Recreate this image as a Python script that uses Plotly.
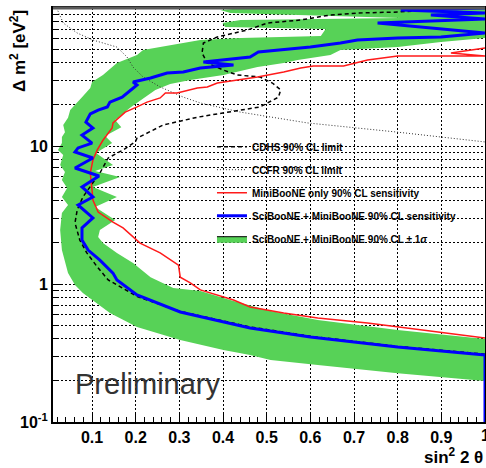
import plotly.graph_objects as go

# ---------------- data (x = sin^2 2theta, y = Delta m^2 [eV^2]) ----------------
band_x = [1.0, 0.800, 0.617, 0.509, 0.462, 0.401, 0.302, 0.203, 0.141, 0.079, 0.061, 0.045,
          0.031, 0.027, 0.031, 0.045, 0.031, 0.043, 0.031, 0.038, 0.027, 0.034, 0.022, 0.031,
          0.031, 0.038, 0.034, 0.045, 0.050, 0.066, 0.077, 0.096, 0.100, 0.125, 0.157, 0.203,
          0.217, 0.256, 0.309, 0.348, 0.440, 0.624, 0.635, 0.405, 0.399, 0.440, 0.807, 0.417,
          0.394, 0.485, 1.0,
          1.0, 0.899, 0.800, 0.669, 0.646, 0.571, 0.539, 0.479, 0.401, 0.325, 0.279, 0.245,
          0.222, 0.203, 0.187, 0.171, 0.153, 0.167, 0.130, 0.146, 0.109, 0.148, 0.107, 0.164,
          0.102, 0.157, 0.107, 0.153, 0.118, 0.114, 0.125, 0.157, 0.194, 0.234, 0.286, 0.348,
          0.424, 0.509, 0.617, 0.800, 1.0]
band_y = [0.198, 0.226, 0.259, 0.281, 0.306, 0.332, 0.393, 0.488, 0.617, 0.861, 0.984, 1.20,
          1.76, 2.46, 3.27, 3.74, 4.27, 4.97, 5.68, 6.48, 7.28, 8.61, 9.36, 10.5,
          11.6, 12.6, 14.2, 16.0, 18.2, 20.5, 22.6, 26.3, 29.1, 32.7, 39.9, 45.6,
          49.6, 52.1, 55.7, 58.6, 60.7, 62.7, 70.5, 72.8, 77.8, 81.9, 84.8, 92.0,
          96.8, 102, 102,
          60.7, 56.8, 52.1, 49.6, 45.6, 42.0, 39.9, 37.3, 32.7, 30.1, 28.1, 25.5,
          22.6, 20.5, 18.9, 17.1, 15.4, 13.7, 11.8, 10.5, 8.90, 7.28, 6.59, 5.96,
          5.05, 4.27, 3.61, 2.91, 2.46, 2.19, 1.98, 1.68, 1.42, 1.12, 0.936, 0.890,
          0.753, 0.637, 0.548, 0.464, 0.399]

sens_x = [1.0, 1.0, 0.800, 0.600, 0.462, 0.302, 0.203, 0.157, 0.148, 0.118, 0.091, 0.077,
          0.077, 0.102, 0.068, 0.102, 0.077, 0.116, 0.061, 0.102, 0.061, 0.068, 0.100, 0.077,
          0.102, 0.086, 0.096, 0.114, 0.135, 0.141, 0.169, 0.194, 0.203, 0.194, 0.234, 0.272,
          0.309, 0.348, 0.424, 0.355, 0.462, 0.481, 0.600, 0.669, 0.708, 0.800, 0.899, 1.0,
          0.754, 1.0, 0.876, 1.0, 0.807, 1.0]
sens_y = [0.1, 0.306, 0.349, 0.413, 0.480, 0.627, 0.832, 1.07, 1.20, 1.49, 1.76, 2.08,
          2.55, 3.01, 3.74, 4.27, 5.05, 6.06, 6.93, 8.19, 9.06, 9.68, 10.5, 12.0,
          13.5, 14.9, 17.1, 18.2, 19.2, 20.8, 22.6, 26.3, 27.7, 29.1, 31.1, 33.8,
          34.4, 36.7, 38.6, 40.6, 44.2, 48.0, 52.1, 55.7, 58.6, 60.7, 61.7, 65.9,
          77.8, 83.2, 89.0, 92.0, 96.8, 100]

mb_x = [1.0, 0.846, 0.731, 0.617, 0.539, 0.462, 0.424, 0.348, 0.325, 0.302, 0.298, 0.256,
        0.210, 0.171, 0.148, 0.114, 0.102, 0.100, 0.096, 0.102, 0.112, 0.125, 0.146, 0.148,
        0.164, 0.176, 0.203, 0.226, 0.256, 0.268, 0.295, 0.341, 0.364, 0.387, 0.433, 0.479,
        0.539, 0.578, 0.607, 0.676, 0.731, 0.800, 1.0, 0.922, 1.0]
mb_y = [0.406, 0.472, 0.522, 0.567, 0.617, 0.681, 0.766, 0.906, 1.02, 1.12, 1.37, 1.68,
        1.98, 2.55, 2.81, 3.32, 4.06, 4.80, 6.37, 7.92, 9.36, 11.0, 13.5, 14.7,
        16.2, 17.6, 19.2, 20.8, 22.3, 24.2, 24.2, 26.3, 26.8, 28.6, 30.1, 31.6,
        34.4, 36.7, 38.0, 38.0, 42.0, 44.9, 44.9, 47.2, 51.3]

cdhs_x = [1.0, 0.80, 0.60, 0.46, 0.30, 0.204, 0.137, 0.112, 0.088, 0.072, 0.061, 0.066,
          0.079, 0.102, 0.118, 0.137, 0.171, 0.199, 0.203, 0.263, 0.343, 0.440, 0.485, 0.527,
          0.532, 0.513, 0.485, 0.433, 0.401, 0.364, 0.352, 0.355, 0.387, 0.456, 0.502, 0.578,
          0.646, 0.708, 0.80, 0.95]
cdhs_y = [0.31, 0.353, 0.418, 0.49, 0.635, 0.81, 1.07, 1.33, 1.68, 2.08, 2.77, 3.44,
          4.27, 5.40, 6.37, 8.19, 9.36, 10.7, 11.4, 14.2, 16.2, 18.2, 19.2, 22.6,
          25.5, 28.6, 31.6, 32.7, 35.5, 39.9, 47.2, 55.7, 61.7, 69.3, 77.8, 81.9,
          89.0, 92.0, 93.5, 100]

ccfr_x = [0.019, 0.034, 0.066, 0.102, 0.157, 0.180, 0.194, 0.217, 0.256, 0.309, 0.348, 0.440,
          0.593, 0.800, 1.0]
ccfr_y = [100, 77.8, 65.9, 58.6, 52.1, 44.2, 37.3, 31.6, 26.8, 22.6, 20.5, 17.6,
          14.7, 12.6, 10.7]

x_tickvals = [0.1, 0.2, 0.3, 0.4, 0.5, 0.6, 0.7, 0.8, 0.9, 1.0]
x_ticktext = ["0.1", "0.2", "0.3", "0.4", "0.5", "0.6", "0.7", "0.8", "0.9", ""]
x_last_label = "1"
y_tickvals = [0.1, 1, 10]
y_ticktext = ["10<sup>-1</sup>", "1", "10"]
y_minor = [m * d for d in (0.1, 1, 10) for m in range(2, 10)]
x_minor = [round(0.02 * i, 2) for i in range(1, 50)]

names = ["CDHS 90% CL limit", "CCFR 90% CL limit", "MiniBooNE only 90% CL sensitivity",
         "SciBooNE + MiniBooNE 90% CL sensitivity",
         "SciBooNE + MiniBooNE 90% CL \u00b1 1<i>\u03c3</i>"]

GREEN = "#57d257"
fig = go.Figure()
fig.add_trace(go.Scatter(x=band_x, y=band_y, mode="lines", fill="toself", fillcolor=GREEN,
                         line=dict(width=0, color=GREEN), showlegend=False, hoverinfo="skip"))
fig.add_trace(go.Scatter(x=[None], y=[None], mode="lines", fill="toself", fillcolor=GREEN,
                         line=dict(width=1, color="black"), name=names[4], legendrank=5,
                         legendgroup="e"))
fig.add_trace(go.Scatter(x=ccfr_x, y=ccfr_y, mode="lines", name=names[1], legendrank=2,
                         legendgroup="b", line=dict(color="#333333", width=1, dash="1px,2px")))
fig.add_trace(go.Scatter(x=cdhs_x, y=cdhs_y, mode="lines", name=names[0], legendrank=1,
                         legendgroup="a", line=dict(color="black", width=1.5, dash="4px,3px")))
fig.add_trace(go.Scatter(x=mb_x, y=mb_y, mode="lines", name=names[2], legendrank=3,
                         legendgroup="c", line=dict(color="#ff1a1a", width=1.5)))
fig.add_trace(go.Scatter(x=sens_x, y=sens_y, mode="lines", name=names[3], legendrank=4,
                         legendgroup="d", line=dict(color="#0000ff", width=3)))

tickfont = dict(family="Liberation Sans", size=16, color="black", weight="bold")
grid = dict(showgrid=True, gridcolor="black", gridwidth=1, griddash="2px,2px")

fig.update_layout(
    width=486, height=468, template="none",
    paper_bgcolor="white", plot_bgcolor="white",
    margin=dict(l=53, r=1, t=8, b=46),
    font=dict(family="Liberation Sans", color="black"),
    xaxis=dict(range=[0.0106, 1.0], tickmode="array", tickvals=x_tickvals, ticktext=x_ticktext,
               ticks="inside", ticklen=9, tickwidth=1, tickcolor="black",
               showline=True, linecolor="black", linewidth=2, mirror=True,
               tickfont=tickfont, zeroline=False, automargin=False,
               minor=dict(tickmode="array", tickvals=x_minor, ticks="inside", ticklen=5,
                          tickcolor="black", showgrid=False),
               **grid),
    yaxis=dict(type="log", range=[-1, 2], tickmode="array", tickvals=y_tickvals,
               ticktext=y_ticktext, ticks="inside", ticklen=10, tickwidth=1, tickcolor="black",
               showline=True, linecolor="black", linewidth=2, mirror=True,
               tickfont=tickfont, zeroline=False, automargin=False,
               minor=dict(tickmode="array", tickvals=y_minor, ticks="inside", ticklen=5,
                          tickcolor="black", showgrid=True, gridcolor="black",
                          griddash="2px,2px", gridwidth=1),
               **grid),
    legend=dict(x=0.368, y=0.70, xanchor="left", yanchor="top", bgcolor="rgba(0,0,0,0)",
                borderwidth=0, tracegroupgap=4,
                font=dict(family="Liberation Sans", size=10, color="black", weight="bold")),
    shapes=[dict(type="line", xref="paper", yref="paper", x0=0, x1=1, y0=1, y1=1,
                 line=dict(color="#5a5a5a", width=3), layer="above")],
    annotations=[
        dict(text="Preliminary", xref="paper", yref="paper", x=0.221, y=0.092,
             xanchor="center", yanchor="middle", showarrow=False,
             font=dict(family="Liberation Sans", size=29, color="#333333")),
        dict(text="\u0394 m<sup>2</sup> [eV<sup>2</sup>]", xref="paper", yref="paper",
             x=-0.081, y=1.0, xanchor="center", yanchor="top", textangle=-90,
             showarrow=False, font=dict(family="Liberation Sans", size=17, color="black",
                                        weight="bold")),
        dict(text="sin<sup>2</sup> 2 \u03b8", xref="paper", yref="paper", x=1.0, y=-0.082,
             xanchor="right", yanchor="middle", showarrow=False,
             font=dict(family="Liberation Sans", size=17, color="black", weight="bold")),
        dict(text=x_last_label, xref="x", yref="paper", x=1.0, y=0, yshift=-3,
             xanchor="center", yanchor="top", showarrow=False, font=tickfont),
    ],
)

fig.write_html("out.html", config={"displayModeBar": False},
               post_script="document.body.style.margin='0';document.body.style.overflow='hidden';")
